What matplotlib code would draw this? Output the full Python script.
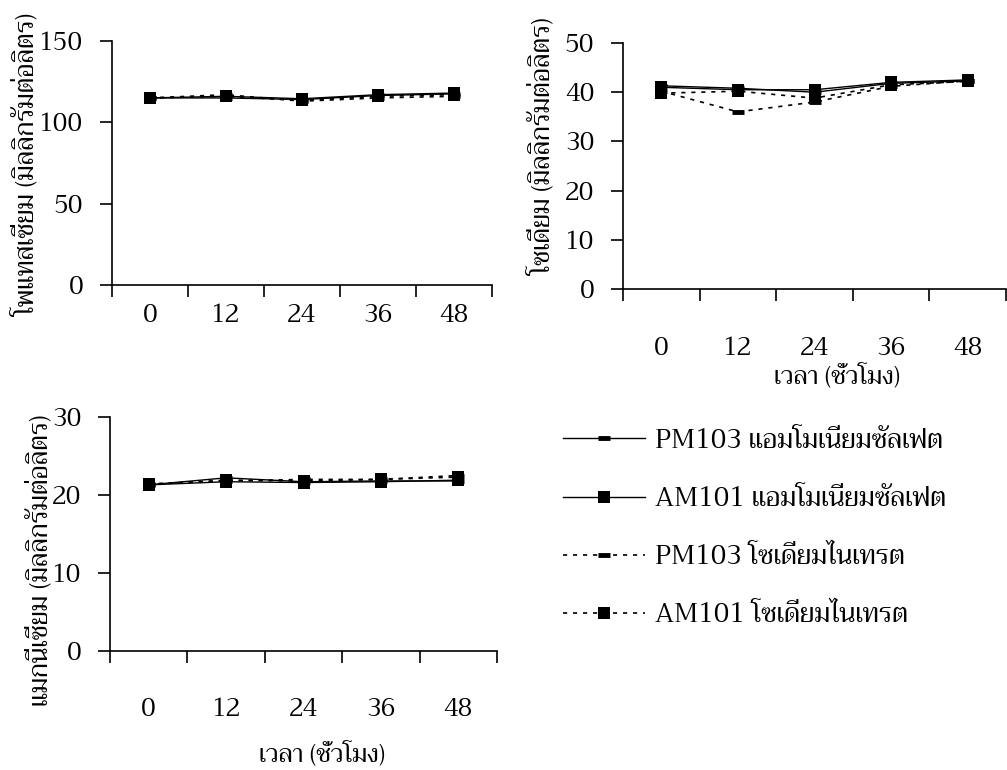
import matplotlib
matplotlib.use("Agg")
import matplotlib.pyplot as plt
import numpy as np

plt.rcParams['font.family'] = ['Trirong', 'FreeSerif', 'Noto Serif Thai', 'DejaVu Serif']

# ---------------- data ----------------
hours = ["0", "12", "24", "36", "48"]
series_names = ["PM103 แอมโมเนียมซัลเฟต", "AM101 แอมโมเนียมซัลเฟต",
                "PM103 โซเดียมไนเทรต", "AM101 โซเดียมไนเทรต"]

potassium_pm103_as = [115.0, 115.0, 114.0, 116.5, 117.5]
potassium_am101_as = [115.0, 116.0, 114.5, 117.0, 118.0]
potassium_pm103_sn = [115.0, 117.0, 113.0, 115.0, 116.0]
potassium_am101_sn = [115.0, 116.0, 113.5, 116.0, 117.0]

sodium_pm103_as = [41.3, 40.8, 40.0, 41.8, 42.3]
sodium_am101_as = [41.0, 40.5, 40.5, 42.0, 42.5]
sodium_pm103_sn = [40.2, 36.0, 38.0, 41.2, 42.3]
sodium_am101_sn = [39.8, 40.2, 38.8, 41.5, 42.2]

magnesium_pm103_as = [21.3, 22.2, 21.7, 21.8, 21.8]
magnesium_am101_as = [21.3, 21.7, 21.6, 21.7, 21.9]
magnesium_pm103_sn = [21.4, 21.8, 22.0, 22.0, 22.5]
magnesium_am101_sn = [21.4, 21.9, 21.8, 22.0, 22.3]

ylabel_k = "โพแทสเซียม (มิลลิกรัมต่อลิตร)"
ylabel_na = "โซเดียม (มิลลิกรัมต่อลิตร)"
ylabel_mg = "แมกนีเซียม (มิลลิกรัมต่อลิตร)"
xlabel_time = "เวลา (ชั่วโมง)"

# ---------------- figure ----------------
W, H = 1007, 770
fig = plt.figure(figsize=(W / 100, H / 100), dpi=100)
FS = 18
FS_LAB = 18.5
FS_LEG = 19

dash = (0, (2.5, 3.5))
styles = [
    dict(color='black', lw=1.0, ls='-', marker='_', ms=9, mew=3.5),
    dict(color='black', lw=1.0, ls='-', marker='s', ms=9, mew=0),
    dict(color='black', lw=1.2, ls=dash, marker='_', ms=9, mew=3.5),
    dict(color='black', lw=1.2, ls=dash, marker='s', ms=9, mew=0),
]


def px_axes(x0, y_top, x1, y_bot):
    return fig.add_axes([x0 / W, 1 - y_bot / H, (x1 - x0) / W, (y_bot - y_top) / H])


def setup(ax, data, ymax, ystep, label_pad):
    xpos = np.arange(len(hours)) + 0.5
    handles = []
    for vals, st in zip(data, styles):
        h, = ax.plot(xpos, vals, **st, clip_on=False)
        handles.append(h)
    ax.set_xlim(0, len(hours))
    ax.set_ylim(0, ymax)
    ax.set_yticks(np.arange(0, ymax + 0.1, ystep))
    ax.set_xticks(np.arange(0, len(hours) + 1))
    ax.set_xticklabels([])
    ax.set_xticks(xpos, minor=True)
    ax.set_xticklabels(hours, minor=True)
    ax.tick_params(axis='x', which='minor', length=0, pad=label_pad, labelsize=FS)
    ax.tick_params(axis='x', which='major', direction='out', length=8.6, width=1.2)
    ax.tick_params(axis='y', direction='out', length=8.6, width=1.2, pad=12, labelsize=FS)
    for s in ['top', 'right']:
        ax.spines[s].set_visible(False)
    for s in ['left', 'bottom']:
        ax.spines[s].set_linewidth(1.2)
    ax.patch.set_alpha(0)
    return handles


ax1 = px_axes(112, 41, 492, 285)
handles = setup(ax1, [potassium_pm103_as, potassium_am101_as,
                      potassium_pm103_sn, potassium_am101_sn], 150, 50, 13.5)

ax2 = px_axes(623, 43, 1006, 289)
setup(ax2, [sodium_pm103_as, sodium_am101_as,
            sodium_pm103_sn, sodium_am101_sn], 50, 10, 34.5)

ax3 = px_axes(110, 417, 497, 651)
setup(ax3, [magnesium_pm103_as, magnesium_am101_as,
            magnesium_pm103_sn, magnesium_am101_sn], 30, 10, 33.5)

# axis labels
fig.text(27 / W, 1 - 165 / H, ylabel_k, rotation=90, ha='center', va='center', fontsize=FS_LAB)
fig.text(543 / W, 1 - 147 / H, ylabel_na, rotation=90, ha='center', va='center', fontsize=FS_LAB)
fig.text(40 / W, 1 - 560 / H, ylabel_mg, rotation=90, ha='center', va='center', fontsize=FS_LAB)
fig.text(837 / W, 1 - 377 / H, xlabel_time, ha='center', va='center', fontsize=FS)
fig.text(322 / W, 1 - 755 / H, xlabel_time, ha='center', va='center', fontsize=FS)

# legend
fig.legend(handles, series_names, loc='upper left',
           bbox_to_anchor=(563 / W, 1 - 428 / H), frameon=False,
           fontsize=FS_LEG, handlelength=3.1, handletextpad=0.38,
           labelspacing=1.22, borderpad=0, borderaxespad=0, numpoints=1)

fig.savefig("out.png", dpi=100)
